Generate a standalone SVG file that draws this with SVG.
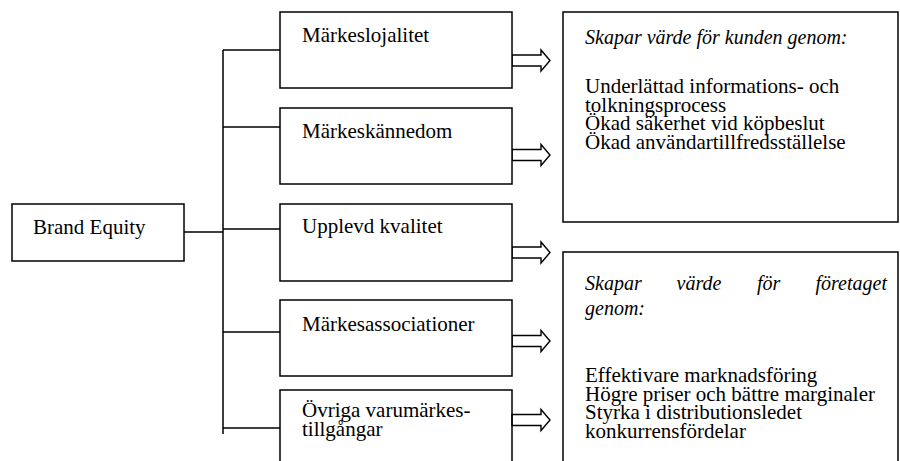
<svg xmlns="http://www.w3.org/2000/svg" width="900" height="461" viewBox="0 0 900 461">
<style>
.box{fill:#fff;stroke:#000;stroke-width:1.5}
.ln{fill:none;stroke:#000;stroke-width:1.5}
.arr{fill:#fff;stroke:#000;stroke-width:1.4;stroke-linejoin:miter}
.t{font-family:'Liberation Serif', 'Times New Roman', Times, serif;font-size:21px;fill:#000}
.it{font-style:italic;font-size:20px}
</style>
<rect width="900" height="461" fill="#fff"/>
<g id="connectors">
<path class="ln" d="M184,232 H223 M223,50 V434 M223,50 H280 M223,127 H280 M223,229 H280 M223,332 H280 M223,428 H280"/>
<path class="arr" d="M512,55 H541 V50 L550,60.5 L541,71 V66 H512 Z"/>
<path class="arr" d="M512,149.5 H541 V144.5 L550,155 L541,165.5 V160.5 H512 Z"/>
<path class="arr" d="M512,247 H541 V242 L550,252.5 L541,263 V258 H512 Z"/>
<path class="arr" d="M512,335.5 H541 V330.5 L550,341 L541,351.5 V346.5 H512 Z"/>
<path class="arr" d="M512,414.5 H541 V409.5 L550,420 L541,430.5 V425.5 H512 Z"/>
</g>
<g id="brand-equity">
<rect class="box" x="12" y="204" width="172" height="57"/>
<text class="t" x="33" y="234">Brand Equity</text>
</g>
<g id="markeslojalitet">
<rect class="box" x="280" y="12" width="232" height="76"/>
<text class="t" x="302" y="42">Märkeslojalitet</text>
</g>
<g id="markeskannedom">
<rect class="box" x="280" y="108" width="232" height="76"/>
<text class="t" x="302" y="137.5">Märkeskännedom</text>
</g>
<g id="upplevd-kvalitet">
<rect class="box" x="280" y="204" width="232" height="77"/>
<text class="t" x="302" y="233">Upplevd kvalitet</text>
</g>
<g id="markesassociationer">
<rect class="box" x="280" y="300" width="232" height="76"/>
<text class="t" x="302" y="331">Märkesassociationer</text>
</g>
<g id="ovriga">
<path class="ln" d="M280,470 V390 H512 V470"/>
<text class="t" x="302" y="417">Övriga varumärkes-</text>
<text class="t" x="302" y="436">tillgångar</text>
</g>
<g id="kunden">
<rect class="box" x="563" y="12" width="335" height="210"/>
<text class="t it" x="585" y="43.5">Skapar värde för kunden genom:</text>
<text class="t" x="585" y="93">Underlättad informations- och</text>
<text class="t" x="585" y="111.5">tolkningsprocess</text>
<text class="t" x="585" y="130">Ökad säkerhet vid köpbeslut</text>
<text class="t" x="585" y="148.5">Ökad användartillfredsställelse</text>
</g>
<g id="foretaget">
<path class="ln" d="M563,470 V252 H898 V470"/>
<text class="t it" y="290"><tspan x="585">Skapar</tspan><tspan x="676.5">värde</tspan><tspan x="757">för</tspan><tspan x="815.5">företaget</tspan></text>
<text class="t it" x="585" y="315">genom:</text>
<text class="t" x="585" y="382">Effektivare marknadsföring</text>
<text class="t" x="585" y="400.5">Högre priser och bättre marginaler</text>
<text class="t" x="585" y="419">Styrka i distributionsledet</text>
<text class="t" x="585" y="437.5">konkurrensfördelar</text>
</g>
</svg>
